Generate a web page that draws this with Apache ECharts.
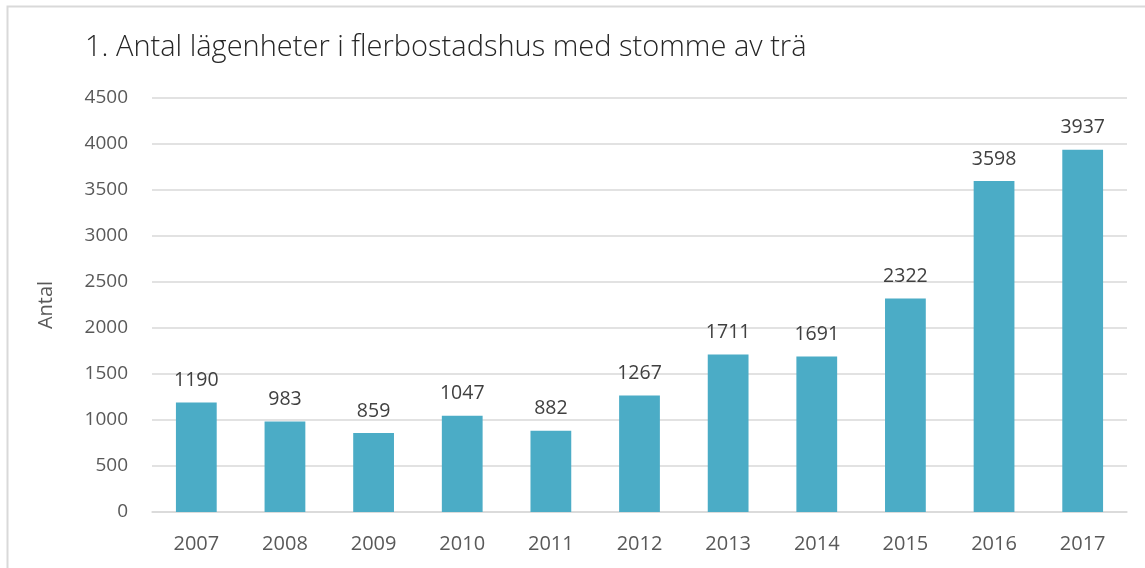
<!DOCTYPE html>
<html>
<head>
<meta charset="utf-8">
<script src="https://cdn.jsdelivr.net/npm/echarts@6/dist/echarts.min.js"></script>
<style>
html,body{margin:0;padding:0;background:#fff;}
#c{width:1145px;height:568px;}
</style>
</head>
<body>
<div id="c"></div>
<script>
const categories = ['2007','2008','2009','2010','2011','2012','2013','2014','2015','2016','2017'];
const values = [1190, 983, 859, 1047, 882, 1267, 1711, 1691, 2322, 3598, 3937];
const yTicks = {min: 0, max: 4500, interval: 500};
const titleText = '1. Antal lägenheter i flerbostadshus med stomme av trä';
const yName = 'Antal';

const chart = echarts.init(document.getElementById('c'));
chart.setOption({
  animation: false,
  backgroundColor: '#fff',
  graphic: [{
    type: 'rect', shape: {x: 7.5, y: 6.5, width: 1200, height: 700},
    style: {fill: 'none', stroke: '#D9D9D9', lineWidth: 2}, silent: true
  }],
  title: {
    text: titleText, left: 80, top: 28,
    textStyle: {fontFamily: 'Open Sans', fontWeight: 300, fontSize: 29, color: '#262626'}
  },
  grid: {left: 152, right: 18, top: 98, bottom: 56, containLabel: false},
  xAxis: {
    type: 'category', data: categories,
    axisLine: {lineStyle: {color: '#D9D9D9', width: 1.5}},
    axisTick: {show: false},
    axisLabel: {fontFamily: 'Open Sans', fontSize: 20, color: '#595959', margin: 22}
  },
  yAxis: {
    type: 'value', min: yTicks.min, max: yTicks.max, interval: yTicks.interval,
    name: yName, nameLocation: 'middle', nameGap: 96, nameRotate: 90,
    nameTextStyle: {fontFamily: 'Open Sans', fontSize: 20, color: '#595959'},
    axisLine: {show: false}, axisTick: {show: false},
    axisLabel: {fontFamily: 'Open Sans', fontSize: 19, color: '#595959', margin: 24,
      formatter: v => String(v)},
    splitLine: {lineStyle: {color: '#D9D9D9', width: 1.5}}
  },
  series: [{
    type: 'bar', data: values, barWidth: '46%',
    itemStyle: {color: '#4BACC6'},
    label: {show: true, position: 'top', distance: 12, fontFamily: 'Open Sans', fontSize: 19.5, color: '#404040'}
  }]
});
</script>
</body>
</html>
